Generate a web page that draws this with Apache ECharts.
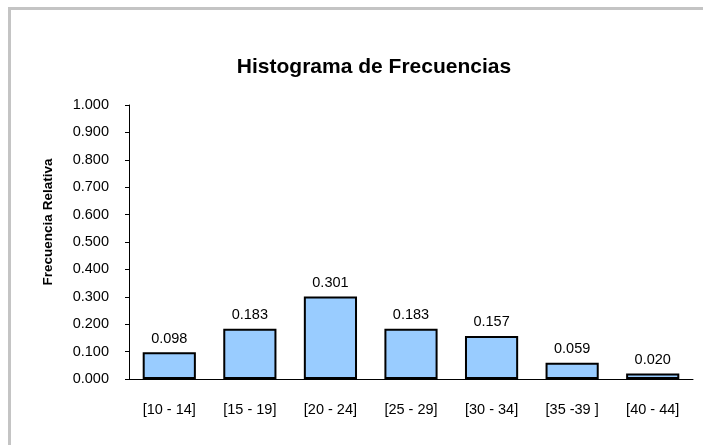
<!DOCTYPE html>
<html>
<head>
<meta charset="utf-8">
<script src="https://cdn.jsdelivr.net/npm/echarts@6/dist/echarts.min.js"></script>
<style>
    html, body { margin: 0; padding: 0; background: #fff; }
    #frame {
        position: absolute; left: 8px; top: 7px; right: 0; bottom: 0;
        border-left: 3px solid #c4c4c4; border-top: 3px solid #c4c4c4;
    }
    #chart { position: absolute; left: 0; top: 0; width: 703px; height: 445px; }
</style>
</head>
<body>
<div id="frame"></div>
<div id="chart"></div>
<script>
    // datos del histograma
    const clases = ['[10 - 14]', '[15 - 19]', '[20 - 24]', '[25 - 29]', '[30 - 34]', '[35 -39 ]', '[40 - 44]'];
    const frecRelativa = [0.098, 0.183, 0.301, 0.183, 0.157, 0.059, 0.020];

    const fuente = 'Liberation Sans, Arial, sans-serif';
    let myChart = echarts.init(document.getElementById('chart'));
    let option = {
        animation: false,
        title: {
            text: 'Histograma de Frecuencias',
            left: 374,
            top: 57,
            padding: 0,
            textAlign: 'center',
            textStyle: { fontFamily: fuente, fontSize: 21, fontWeight: 'bold', color: '#000' }
        },
        grid: { left: 129, right: 10, top: 105, bottom: 66 },
        // titulo del eje Y
        graphic: [{
            type: 'text',
            x: 48,
            y: 222,
            rotation: Math.PI / 2,
            style: {
                text: 'Frecuencia Relativa',
                font: 'bold 13.5px ' + fuente,
                fill: '#000',
                align: 'center',
                verticalAlign: 'middle'
            }
        }],
        xAxis: {
            type: 'category',
            data: clases,
            axisLine: { lineStyle: { color: '#000', width: 1 } },
            axisTick: { length: 5, lineStyle: { color: '#000' } },
            axisLabel: { margin: 23, fontFamily: fuente, fontSize: 14.5, color: '#000' }
        },
        yAxis: {
            type: 'value',
            min: 0,
            max: 1,
            interval: 0.1,
            splitLine: { show: false },
            axisLine: { show: true, lineStyle: { color: '#000', width: 1 } },
            axisTick: { show: true, length: 4, lineStyle: { color: '#000' } },
            axisLabel: {
                margin: 20,
                fontFamily: fuente, fontSize: 14.5, color: '#000',
                formatter: v => v.toFixed(3)
            }
        },
        series: [{
            type: 'bar',
            data: frecRelativa,
            barWidth: '66%',
            itemStyle: { color: '#99ccff', borderColor: '#000', borderWidth: 2 },
            label: {
                show: true,
                position: 'top',
                distance: 6,
                fontFamily: fuente, fontSize: 14.5, color: '#000',
                formatter: p => p.value.toFixed(3)
            }
        }]
    };
    myChart.setOption(option);
</script>
</body>
</html>
